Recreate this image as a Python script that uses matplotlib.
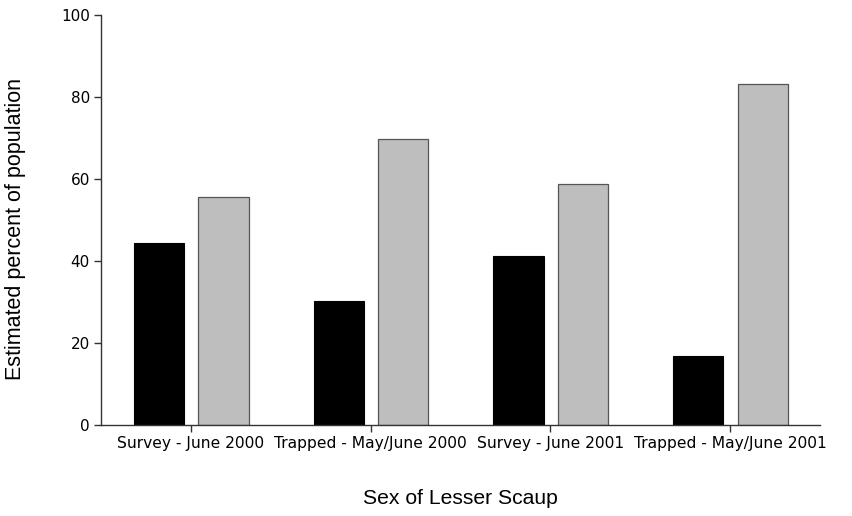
import numpy as np
import matplotlib
matplotlib.use("Agg")
import matplotlib.pyplot as plt

categories = ["Survey - June 2000", "Trapped - May/June 2000",
              "Survey - June 2001", "Trapped - May/June 2001"]
males = [44.5, 30.2, 41.2, 16.9]
females = [55.5, 69.8, 58.8, 83.1]
y_ticks = [0, 20, 40, 60, 80, 100]

fig = plt.figure(figsize=(8.53, 5.16), dpi=100)
ax = fig.add_axes([0.1184, 0.1764, 0.9613 - 0.1184, 0.9709 - 0.1764])

x = np.arange(len(categories))
w = 0.28
ax.bar(x - 0.177, males, width=w, color="black", edgecolor="black", linewidth=0.8)
ax.bar(x + 0.182, females, width=w, color="#bebebe", edgecolor="#555555", linewidth=0.9)

ax.set_xlim(-0.5, 3.5)
ax.set_ylim(0, 100)
ax.set_yticks(y_ticks)
ax.set_xticks(x)
ax.set_xticklabels(categories, fontsize=11.2, family="DejaVu Sans")
ax.tick_params(axis="y", labelsize=11, length=5, width=1, color="#333333", direction="out", pad=3)
ax.tick_params(axis="x", length=5, width=1, color="#333333", direction="out", pad=3)

for s in ["top", "right"]:
    ax.spines[s].set_visible(False)
for s in ["left", "bottom"]:
    ax.spines[s].set_color("#333333")
    ax.spines[s].set_linewidth(1)

ax.set_ylabel("Estimated percent of population", fontsize=15.5, family="Liberation Sans")
ax.yaxis.set_label_coords(-0.105, 0.477)
ax.set_xlabel("Sex of Lesser Scaup", fontsize=15.2, family="Liberation Sans", labelpad=27)

fig.savefig("out.png", dpi=100)
